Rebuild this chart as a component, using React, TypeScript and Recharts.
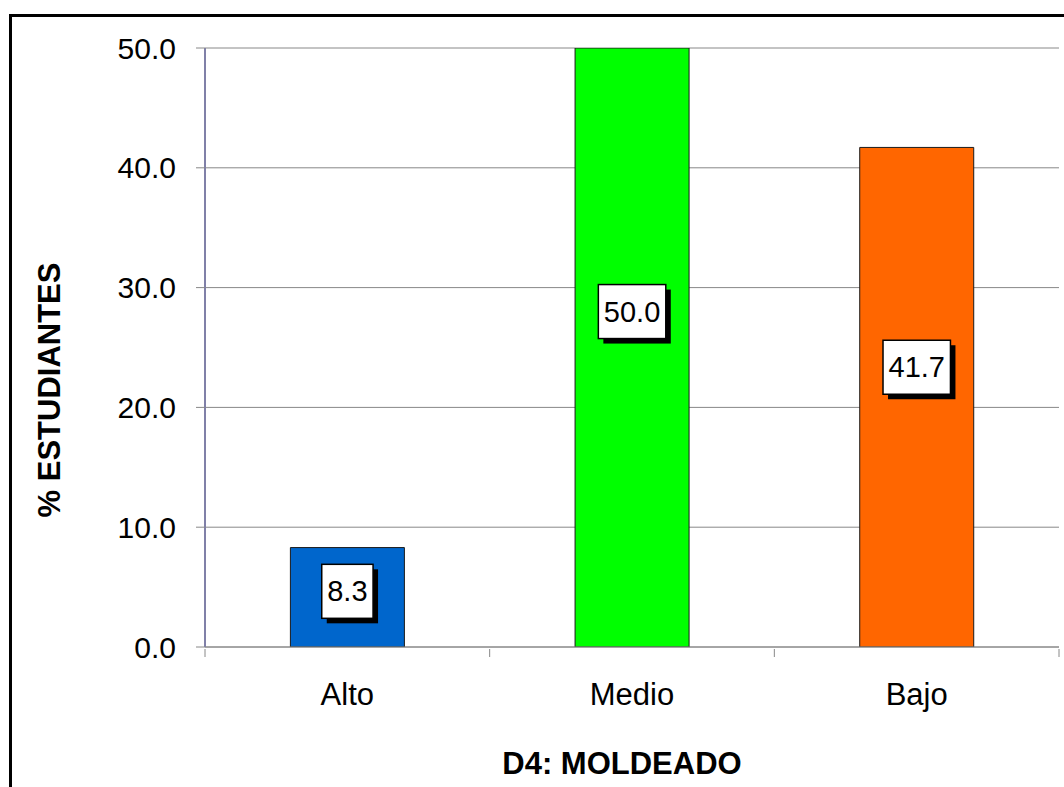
import React from 'react';
import { BarChart, Bar, XAxis, YAxis, CartesianGrid, Cell, LabelList, Label } from 'recharts';

const categories = ['Alto', 'Medio', 'Bajo'];
const percentages = [8.3, 50.0, 41.7];
const barColors = ['#0066CC', '#00FF00', '#FF6600'];
const yTicks = [0, 10, 20, 30, 40, 50];

const FONT = '"Liberation Sans", Arial, sans-serif';
const FRAME = '#8080a8';

const data = categories.map((name, i) => ({ name, value: percentages[i] }));

function CategoryTick(props: any) {
    const { x, y, payload, index } = props;
    const half = payload.offset ?? 0;
    return (
        <g>
            <line x1={x - half} y1={y} x2={x - half} y2={y + 8} stroke="#888" />
            {index === categories.length - 1 && (
                <line x1={x + half} y1={y} x2={x + half} y2={y + 8} stroke="#888" />
            )}
            <text x={x} y={y + 56} textAnchor="middle" fontSize={31} fontFamily={FONT} fill="#000">
                {payload.value}
            </text>
        </g>
    );
}

function BoxLabel(props: any) {
    const { x, y, width, height, value } = props;
    const text = Number(value).toFixed(1);
    const fs = 29;
    const textW = text.split('').reduce((s, c) => s + (c === '.' ? 0.278 : 0.556), 0) * fs;
    const w = textW + 11;
    const h = 54;
    const cx = x + width / 2;
    const cy = y + height * 0.44;
    return (
        <g>
            <rect x={cx - w / 2 + 5} y={cy - h / 2 + 5} width={w} height={h} fill="#000" />
            <rect x={cx - w / 2} y={cy - h / 2} width={w} height={h} fill="#fff" stroke="#000" strokeWidth={1.5} />
            <text x={cx} y={cy} textAnchor="middle" dominantBaseline="central" fontSize={fs} fontFamily={FONT} fill="#000">
                {text}
            </text>
        </g>
    );
}

const YTitle = () => (
    <text x={49} y={390} transform="rotate(-90 49 390)" textAnchor="middle" dominantBaseline="central"
        fontSize={31} fontWeight="bold" fontFamily={FONT} fill="#000">
        % ESTUDIANTES
    </text>
);

const XTitle = () => (
    <text x={622} y={774} textAnchor="middle" fontSize={31} fontWeight="bold" fontFamily={FONT} fill="#000">
        D4: MOLDEADO
    </text>
);

export default function App() {
    return (
        <div style={{ position: 'fixed', left: 0, top: 0, width: 1064, height: 787, overflow: 'hidden', background: '#fff' }}>
            <div style={{ position: 'absolute', left: 9, top: 14, width: 1200, height: 900, border: '3px solid #000' }} />
            <div style={{ position: 'absolute', left: 0, top: 0 }}>
                <BarChart width={1064} height={787} data={data} margin={{ top: 48, right: 5, bottom: 0, left: 0 }} barCategoryGap="30%">
                    <CartesianGrid vertical={false} stroke="#888" />
                    <XAxis dataKey="name" height={140} axisLine={{ stroke: '#888' }} tickLine={false} tickSize={0}
                        tick={<CategoryTick />} interval={0}>
                        <Label content={<XTitle />} />
                    </XAxis>
                    <XAxis xAxisId="top" orientation="top" height={0} tick={false} tickLine={false} axisLine={{ stroke: FRAME, strokeWidth: 2 }} />
                    <YAxis domain={[0, 50]} ticks={yTicks} width={205} tickSize={9} tickMargin={20}
                        tickFormatter={(v: number) => v.toFixed(1)} axisLine={{ stroke: FRAME, strokeWidth: 2 }}
                        tickLine={{ stroke: '#888' }} tick={{ fontSize: 30, fontFamily: FONT, fill: '#000' }}
                        interval={0} allowDataOverflow>
                        <Label content={<YTitle />} />
                    </YAxis>
                    <YAxis yAxisId="r" orientation="right" width={0} tick={false} tickLine={false} axisLine={{ stroke: FRAME, strokeWidth: 2 }} />
                    <Bar dataKey="value" stroke="#1a1a1a" strokeWidth={1} isAnimationActive={false}>
                        {data.map((_, i) => (
                            <Cell key={`c-${i}`} fill={barColors[i]} />
                        ))}
                        <LabelList dataKey="value" content={<BoxLabel />} />
                    </Bar>
                </BarChart>
            </div>
        </div>
    );
}
